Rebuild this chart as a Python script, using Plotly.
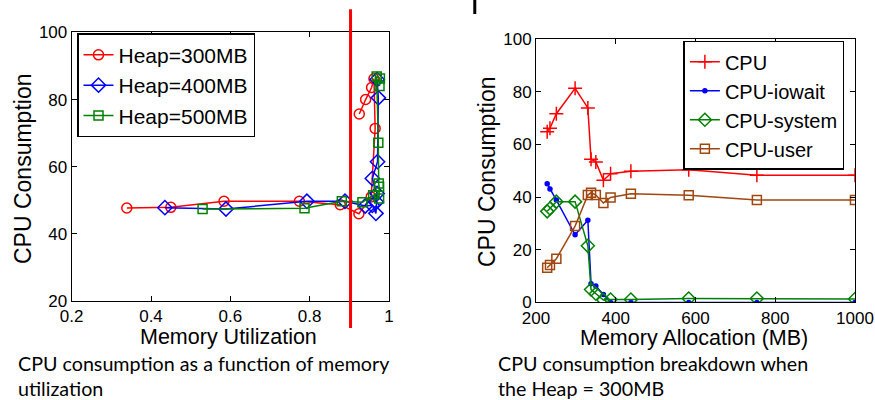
import plotly.graph_objects as go

# ---------------- Left chart data: CPU vs memory utilization ----------------
util_300 = [0.339, 0.450, 0.584, 0.774, 0.877, 0.924, 0.955, 0.965, 0.962, 0.956, 0.941, 0.925]
cpu_300 = [47.7, 47.9, 49.7, 49.7, 48.7, 46.0, 51.0, 71.4, 86.2, 83.6, 80.0, 75.7]

util_400 = [0.435, 0.589, 0.793, 0.889, 0.940, 0.958, 0.967, 0.968, 0.970, 0.958, 0.971, 0.973, 0.970]
cpu_400 = [47.8, 47.4, 49.7, 49.7, 48.3, 48.5, 46.1, 49.5, 52.0, 56.5, 61.5, 80.5, 86.0]

util_500 = [0.530, 0.787, 0.881, 0.933, 0.960, 0.975, 0.975, 0.974, 0.973, 0.969, 0.977, 0.976]
cpu_500 = [47.4, 47.6, 49.7, 49.4, 51.5, 50.5, 54.0, 55.0, 67.1, 86.9, 86.3, 84.0]

threshold_util = 0.903

# ---------------- Right chart data: CPU breakdown, Heap = 300MB ----------------
alloc_mb = [228, 235, 251, 298, 330, 338, 350, 369, 387, 438, 583, 754, 1000]
cpu_total = [64.9, 66.2, 71.7, 81.4, 73.9, 54.4, 53.4, 46.4, 48.9, 49.8, 50.4, 48.3, 48.3]
cpu_iowait = [45.1, 43.1, 38.9, 25.7, 31.2, 7.1, 6.2, 3.0, 0.0, 0.0, 0.0, 0.0, 0.0]
cpu_system = [34.6, 35.7, 38.3, 38.3, 21.5, 4.9, 3.3, 0.9, 1.1, 1.1, 1.5, 1.5, 1.3]
cpu_user = [13.2, 14.2, 16.6, 29.0, 40.8, 41.7, 40.8, 37.8, 39.9, 41.3, 40.7, 38.9, 38.9]

RED = "#ff0000"
BLUE = "#0000ff"
GREEN = "#008000"
BROWN = "#a0460f"
FONT = "Liberation Sans, Arial, sans-serif"
CAP_FONT = "Lato, Open Sans, sans-serif"

fig = go.Figure()

def add(x, y, name, color, symbol, size, xa, ya, legend, lw=1.5):
    fig.add_trace(go.Scatter(
        x=x, y=y, name=name, mode="lines+markers",
        line=dict(color=color, width=lw),
        marker=dict(symbol=symbol, size=size, color=color,
                    line=dict(color=color, width=1.5)),
        xaxis=xa, yaxis=ya, legend=legend,
    ))

add(util_300, cpu_300, "Heap=300MB", RED, "circle-open", 10, "x", "y", "legend")
add(util_400, cpu_400, "Heap=400MB", BLUE, "diamond-open", 11, "x", "y", "legend")
add(util_500, cpu_500, "Heap=500MB", GREEN, "square-open", 9, "x", "y", "legend")

add(alloc_mb, cpu_total, "CPU", RED, "cross-thin", 10, "x2", "y2", "legend2")
add(alloc_mb, cpu_iowait, "CPU-iowait", BLUE, "circle", 4, "x2", "y2", "legend2")
add(alloc_mb, cpu_system, "CPU-system", GREEN, "diamond-open", 10, "x2", "y2", "legend2")
add(alloc_mb, cpu_user, "CPU-user", BROWN, "square-open", 9, "x2", "y2", "legend2")

axis_common = dict(
    showline=True, linecolor="black", linewidth=1, mirror="allticks",
    ticks="inside", ticklen=5, tickcolor="black", showgrid=False, zeroline=False,
    automargin=False,
    tickfont=dict(family=FONT, size=17, color="black"),
)

fig.update_layout(
    width=875, height=400,
    margin=dict(l=0, r=0, t=0, b=0, autoexpand=False),
    paper_bgcolor="white", plot_bgcolor="white",
    showlegend=True,
    xaxis=dict(domain=[0.0819, 0.4446], range=[0.2, 1.0],
               tickvals=[0.2, 0.4, 0.6, 0.8, 1.0], ticktext=["0.2", "0.4", "0.6", "0.8", "1"],
               anchor="y", **axis_common),
    yaxis=dict(domain=[0.2475, 0.919], range=[20, 100], dtick=20, anchor="x", **axis_common),
    xaxis2=dict(domain=[0.6126, 0.9771], range=[200, 1000], dtick=200, anchor="y2", **axis_common),
    yaxis2=dict(domain=[0.244, 0.9018], range=[0, 100], dtick=20, anchor="x2", **axis_common),
    legend=dict(x=0.088, y=0.917, xanchor="left", yanchor="top",
                bordercolor="black", borderwidth=1.5, bgcolor="white",
                font=dict(family=FONT, size=21, color="black"),
                tracegroupgap=0, itemsizing="trace"),
    legend2=dict(x=0.781, y=0.898, xanchor="left", yanchor="top",
                 bordercolor="black", borderwidth=1.5, bgcolor="white",
                 font=dict(family=FONT, size=20, color="black"),
                 tracegroupgap=0, itemsizing="trace"),
)

# threshold line (extends beyond plot area)
fig.add_shape(type="line", xref="x", yref="paper",
              x0=threshold_util, x1=threshold_util, y0=0.18, y1=0.977,
              line=dict(color=RED, width=3))

# small cut-off glyph at top
fig.add_shape(type="line", xref="paper", yref="paper",
              x0=0.5426, x1=0.5426, y0=0.965, y1=1.0,
              line=dict(color="black", width=3))

ann = [
    dict(text="Memory Utilization", x=0.2617, y=(400 - 337) / 400, size=21.5, family=FONT),
    dict(text="CPU Consumption", x=23 / 875, y=(400 - 169) / 400, size=23, family=FONT, angle=-90),
    dict(text="Memory Allocation (MB)", x=694 / 875, y=(400 - 338) / 400, size=21.5, family=FONT),
    dict(text="CPU Consumption", x=487 / 875, y=(400 - 172) / 400, size=23, family=FONT, angle=-90),
]
for a in ann:
    fig.add_annotation(text=a["text"], x=a["x"], y=a["y"], xref="paper", yref="paper",
                       showarrow=False, xanchor="center", yanchor="middle",
                       textangle=a.get("angle", 0),
                       font=dict(family=a["family"], size=a["size"], color="black"))

captions = [
    ("CPU consumption as a function of memory", 16 / 875, (400 - 363) / 400),
    ("utilization", 16 / 875, (400 - 388) / 400),
    ("CPU consumption breakdown when", 496 / 875, (400 - 363) / 400),
    ("the Heap = 300MB", 496 / 875, (400 - 388) / 400),
]
for t, x, y in captions:
    fig.add_annotation(text=t, x=x, y=y, xref="paper", yref="paper", showarrow=False,
                       xanchor="left", yanchor="middle",
                       font=dict(family=CAP_FONT, size=19.7, color="black"))

fig.write_html("out.html", config={"displayModeBar": False},
               post_script="document.body.style.margin='0px';document.body.style.overflow='hidden';")
